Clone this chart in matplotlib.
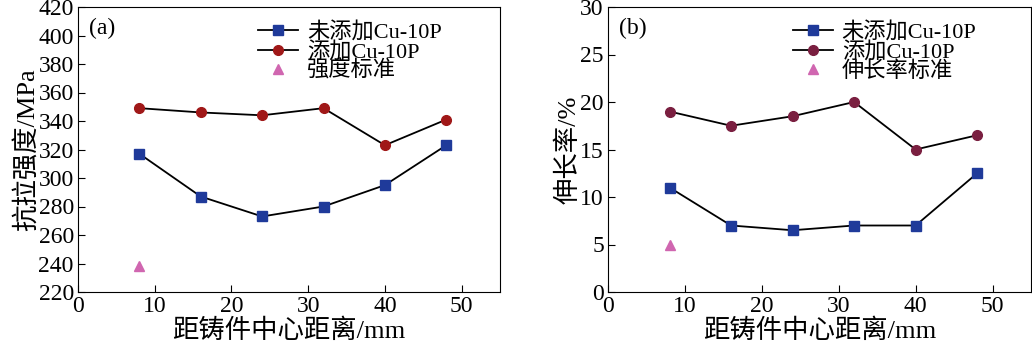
import numpy as np
import matplotlib.pyplot as plt

plt.rcParams['font.family'] = ['Liberation Serif', 'Noto Sans CJK SC']
plt.rcParams['xtick.direction'] = 'in'
plt.rcParams['ytick.direction'] = 'in'

x = [8, 16, 24, 32, 40, 48]
str_no = [317, 287, 273, 280, 295, 323]
str_add = [349, 346, 344, 349, 323, 341]
str_std = 238
el_no = [11, 7, 6.5, 7, 7, 12.5]
el_add = [19, 17.5, 18.5, 20, 15, 16.5]
el_std = 5

xlabel = '距铸件中心距离/mm'
lab_no = '未添加Cu-10P'
lab_add = '添加Cu-10P'

fig = plt.figure(figsize=(10.32, 3.53), dpi=100)
ax1 = fig.add_axes([78/1032, 61/353, 422/1032, 285/353])
ax2 = fig.add_axes([608/1032, 61/353, 423/1032, 285/353])

def panel(ax, no, add, std, red, std_lab, ylim, yticks, ylabel, tag, lx):
    ax.plot(x, no, '-', color='k', lw=1.3, marker='s', ms=6.5, mfc='#1f3a9a', mec='#1f3a9a', label=lab_no)
    ax.plot(x, add, '-', color='k', lw=1.3, marker='o', ms=7, mfc=red, mec=red, label=lab_add)
    ax.plot([x[0]], [std], '^', color='#d066b0', ms=7, ls='none', label=std_lab)
    ax.set_xlim(0, 55)
    ax.set_ylim(*ylim)
    ax.set_xticks([0, 10, 20, 30, 40, 50])
    ax.set_yticks(yticks)
    ax.tick_params(labelsize=17, length=5, pad=3)
    ax.set_xlabel(xlabel, fontsize=19, labelpad=1)
    ax.set_ylabel(ylabel, fontsize=19, labelpad=0)
    ax.text(0.025, 0.925, tag, transform=ax.transAxes, fontsize=17, va='center')
    ax.legend(loc='upper left', bbox_to_anchor=(lx, 0.947), frameon=False, fontsize=16,
              handlelength=1.8, labelspacing=-0.07, borderpad=0.0, borderaxespad=0.0,
              handletextpad=0.4)

panel(ax1, str_no, str_add, str_std, '#a01818', '强度标准', (220, 420),
      np.arange(220, 421, 20), '抗拉强度/MPa', '(a)', 0.427)
panel(ax2, el_no, el_add, el_std, '#7a1f40', '伸长率标准', (0, 30),
      np.arange(0, 31, 5), '伸长率/%', '(b)', 0.437)

fig.savefig('out.png', dpi=100)
